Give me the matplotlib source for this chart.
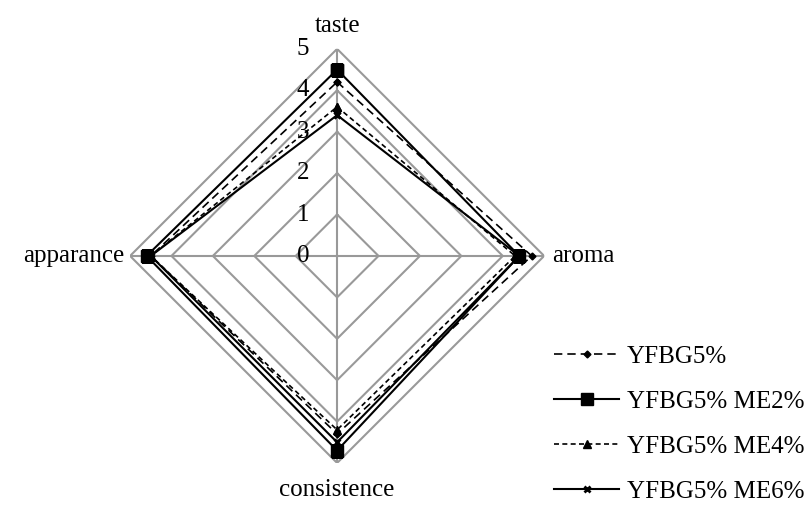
import numpy as np
import matplotlib.pyplot as plt

categories = ["taste", "aroma", "consistence", "apparance"]
series_names = ["YFBG5%", "YFBG5% ME2%", "YFBG5% ME4%", "YFBG5% ME6%"]
yfbg5 = [4.2, 4.7, 4.3, 4.5]
me2 = [4.5, 4.4, 4.7, 4.6]
me4 = [3.6, 4.3, 4.2, 4.5]
me6 = [3.4, 4.4, 4.5, 4.5]
ticks = [0, 1, 2, 3, 4, 5]

plt.rcParams["font.family"] = ["Liberation Serif", "DejaVu Serif"]
plt.rcParams["font.size"] = 18

fig = plt.figure(figsize=(8.09, 5.05), dpi=100)
ax = fig.add_axes([0.1607, 0.0832, 0.512, 0.82], projection="polar")
ax.set_theta_zero_location("N")
ax.set_theta_direction(-1)
ax.set_ylim(0, 5)
ax.grid(False)
ax.spines["polar"].set_visible(False)
ax.set_xticks([])
ax.set_yticks([])

angles = np.linspace(0, 2 * np.pi, len(categories), endpoint=False)
closed = np.append(angles, angles[0])

# polygon grid and spokes
grid_color = "#999999"
for t in ticks[1:]:
    ax.plot(closed, [t] * len(closed), color=grid_color, lw=1.5, zorder=1)
for a in angles:
    ax.plot([a, a], [0, ticks[-1]], color=grid_color, lw=1.5, zorder=1)

styles = [
    dict(ls=(0, (5, 3)), marker="D", ms=3.5, lw=1.2),
    dict(ls="-", marker="s", ms=8.5, lw=1.5),
    dict(ls=(0, (3, 2)), marker="^", ms=6, lw=1.2),
    dict(ls="-", marker="x", ms=4.5, mew=2, lw=1.5),
]
for name, vals, st in zip(series_names, [yfbg5, me2, me4, me6], styles):
    ax.plot(closed, vals + vals[:1], color="black", label=name, zorder=3, **st)

# radial tick labels along the taste axis
for t in ticks:
    ax.annotate(str(t), xy=(0, t), xytext=(-28, 0), textcoords="offset pixels",
                ha="right", va="center")

# category labels
ax.annotate(categories[0], xy=(angles[0], 5), xytext=(0, 23), textcoords="offset pixels",
            ha="center", va="center")
ax.annotate(categories[1], xy=(angles[1], 5), xytext=(8, 0), textcoords="offset pixels",
            ha="left", va="center")
ax.annotate(categories[2], xy=(angles[2], 5), xytext=(0, -27), textcoords="offset pixels",
            ha="center", va="center")
ax.annotate(categories[3], xy=(angles[3], 5), xytext=(-6, 0), textcoords="offset pixels",
            ha="right", va="center")

fig.legend(loc="lower right", bbox_to_anchor=(1.022, -0.041), frameon=False,
           handlelength=2.6, handletextpad=0.3, labelspacing=0.9)

fig.savefig("out.png", dpi=100)
